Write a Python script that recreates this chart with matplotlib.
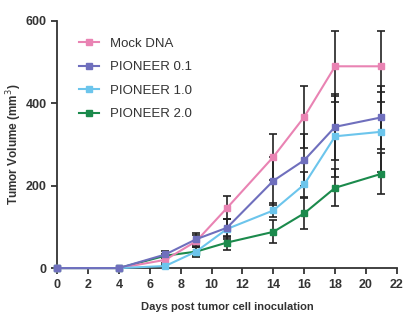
import numpy as np
import matplotlib.pyplot as plt

plt.rcParams['font.family'] = ['Liberation Sans', 'DejaVu Sans']

days = [0, 4, 7, 9, 11, 14, 16, 18, 21]

names = ['Mock DNA', 'PIONEER 0.1', 'PIONEER 1.0', 'PIONEER 2.0']
colors = ['#e983b3', '#6f6fbd', '#6cc5ec', '#1b8a4c']

mock = [0, 0, 20, 65, 146, 270, 367, 490, 490]
mock_err = [0, 0, 8, 15, 28, 55, 75, 86, 86]
p01 = [0, 0, 33, 70, 98, 212, 262, 343, 366]
p01_err = [0, 0, 8, 15, 22, 58, 63, 80, 77]
p10 = [0, 0, 5, 40, 95, 140, 203, 320, 331]
p10_err = [0, 0, 3, 12, 25, 17, 30, 98, 97]
p20 = [0, 0, 30, 40, 62, 88, 133, 195, 229]
p20_err = [0, 0, 5, 10, 17, 28, 37, 45, 50]

series = [(mock, mock_err), (p01, p01_err), (p10, p10_err), (p20, p20_err)]
# purple sits on top where the lines overlap
orders = [4, 6, 5, 3]

fig = plt.figure(figsize=(4.2, 3.23), dpi=100)
ax = fig.add_axes([0.136, 0.170, 0.809, 0.765])

# error bars first, then the coloured lines on top
for (vals, err), c in zip(series, colors):
    ax.errorbar(days, vals, yerr=err, fmt='none', ecolor='#222222',
                elinewidth=1.2, capsize=3, capthick=1.2, zorder=2)
for (vals, err), c, name, z in zip(series, colors, names, orders):
    ax.plot(days, vals, '-s', color=c, lw=1.5, ms=4.5, label=name,
            zorder=z, clip_on=False)

ax.set_xlim(0, 22)
ax.set_ylim(0, 600)
ax.set_xticks(np.arange(0, 23, 2))
ax.set_yticks([0, 200, 400, 600])
ax.spines['top'].set_visible(False)
ax.spines['right'].set_visible(False)
for s in ['left', 'bottom']:
    ax.spines[s].set_linewidth(1.3)
    ax.spines[s].set_color('#333333')
ax.tick_params(direction='out', length=4, width=1.3, color='#333333',
               labelsize=9, labelcolor='#333333')
for lab in ax.get_xticklabels() + ax.get_yticklabels():
    lab.set_fontweight('bold')

ax.set_xlabel('Days post tumor cell inoculation', fontsize=8, fontweight='bold',
              color='#333333', labelpad=8)
ax.set_ylabel('Tumor Volume (mm$^3$)', fontsize=8.5, fontweight='bold',
              color='#333333', labelpad=1)

ax.legend(loc='upper left', bbox_to_anchor=(0.03, 0.98), frameon=False,
          fontsize=9.5, handlelength=1.5, labelspacing=0.85, labelcolor='#333333')

fig.savefig('out.png', dpi=100)
